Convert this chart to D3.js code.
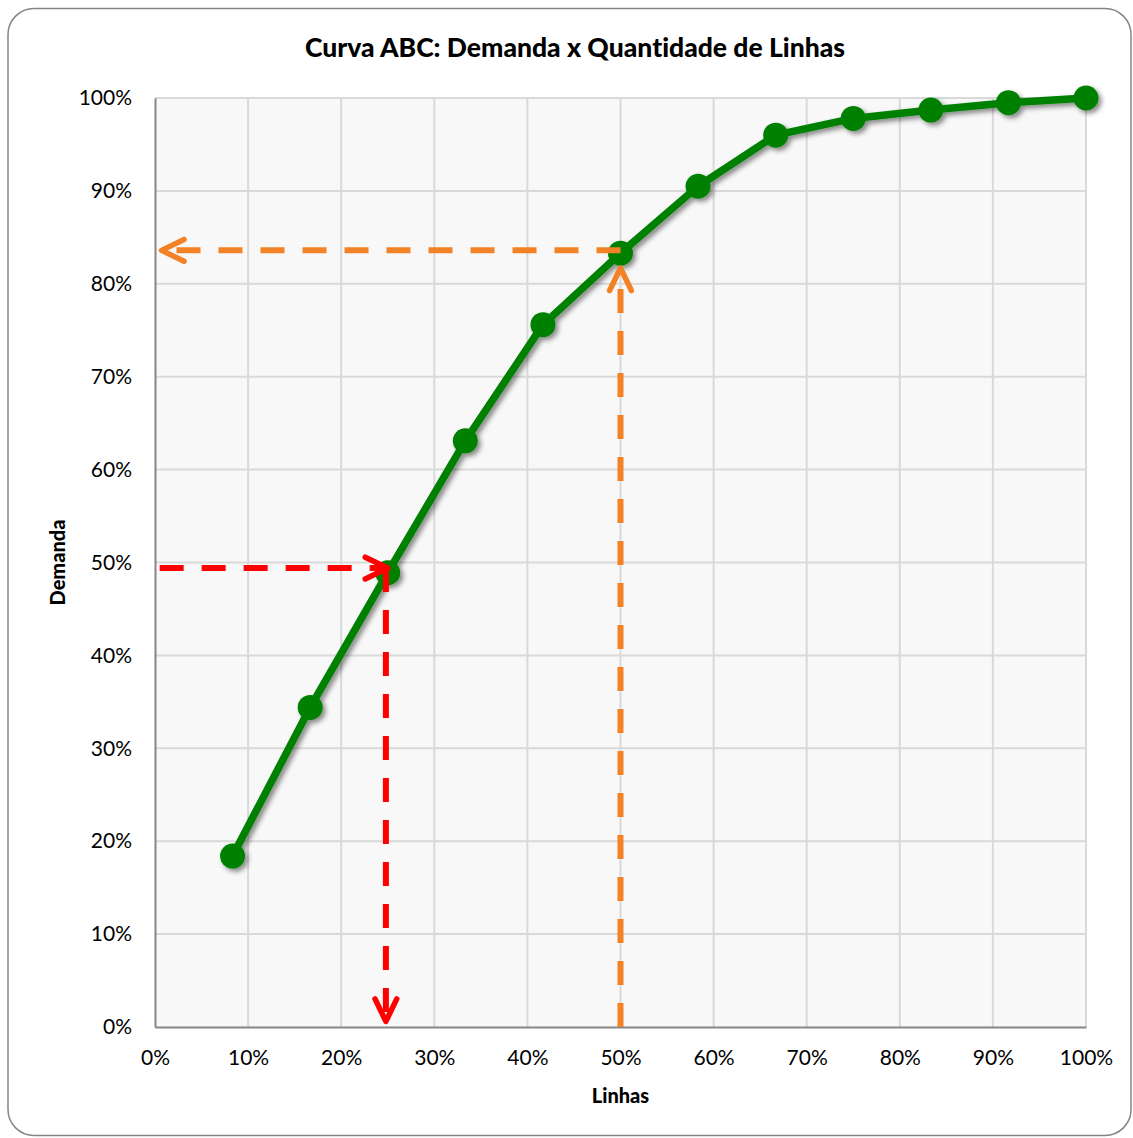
<!DOCTYPE html>
<html lang="pt">
  <head>
    <meta charset="utf-8" />
    <title>Curva ABC</title>
    <script src="https://d3js.org/d3.v7.min.js"></script>
    <style>
      html, body { margin: 0; padding: 0; background: #fff; }
      svg { display: block; font-family: Lato, "Open Sans", sans-serif; font-variant-ligatures: none; }
    </style>
  </head>
  <body>
    <svg id="chart" width="1133" height="1138"></svg>
    <script>
      // values (percent)
      const linhas = [8.33, 16.67, 25, 33.33, 41.67, 50, 58.33, 66.67, 75, 83.33, 91.67, 100];
      const demanda = [18.4, 34.4, 48.9, 63.1, 75.6, 83.3, 90.5, 96.0, 97.8, 98.7, 99.5, 100];
      const xTicks = [0, 10, 20, 30, 40, 50, 60, 70, 80, 90, 100];
      const yTicks = [0, 10, 20, 30, 40, 50, 60, 70, 80, 90, 100];

      // guide arrows: [x1, y1, x2, y2] in percent, arrow head at (x2, y2)
      const redArrows = [
        [0.5, 49.4, 25, 49.4],
        [24.8, 49.4, 24.8, 0.6]
      ];
      const orangeArrows = [
        [50, 0, 50, 81.7],
        [50, 83.6, 0.7, 83.6]
      ];

      const margin = { top: 98, right: 47, bottom: 111, left: 155 },
        width = 1133 - margin.left - margin.right,
        height = 1138 - margin.top - margin.bottom;

      const svg = d3.select("#chart");

      // drop shadow for the series
      const defs = svg.append("defs");
      defs
        .append("filter")
        .attr("id", "shadow")
        .attr("x", "-20%")
        .attr("y", "-20%")
        .attr("width", "140%")
        .attr("height", "140%")
        .append("feDropShadow")
        .attr("dx", 3)
        .attr("dy", 3)
        .attr("stdDeviation", 2.5)
        .attr("flood-color", "#000")
        .attr("flood-opacity", 0.45);

      // outer frame
      svg
        .append("rect")
        .attr("x", 8)
        .attr("y", 8.5)
        .attr("width", 1123)
        .attr("height", 1127)
        .attr("rx", 26)
        .attr("fill", "#fff")
        .attr("stroke", "#858585")
        .attr("stroke-width", 1.5);

      svg
        .append("text")
        .attr("x", 575)
        .attr("y", 57)
        .attr("text-anchor", "middle")
        .style("font-weight", "900")
        .style("font-size", "26.5px")
        .text("Curva ABC: Demanda x Quantidade de Linhas");

      const chart = svg
        .append("g")
        .attr("transform", "translate(" + margin.left + "," + margin.top + ")");

      const x = d3.scaleLinear().domain([0, 100]).range([0, width]);
      const y = d3.scaleLinear().domain([0, 100]).range([height, 0]);

      chart
        .append("rect")
        .attr("width", width)
        .attr("height", height)
        .attr("fill", "#f8f8f8");

      // grid
      chart
        .append("g")
        .selectAll("line")
        .data(xTicks.slice(1))
        .join("line")
        .attr("x1", (d) => x(d))
        .attr("x2", (d) => x(d))
        .attr("y1", 0)
        .attr("y2", height)
        .attr("stroke", "#d9d9d9")
        .attr("stroke-width", 2);

      chart
        .append("g")
        .selectAll("line")
        .data(yTicks.slice(1))
        .join("line")
        .attr("x1", 0)
        .attr("x2", width)
        .attr("y1", (d) => y(d))
        .attr("y2", (d) => y(d))
        .attr("stroke", "#d9d9d9")
        .attr("stroke-width", 2);

      // axes
      const xAxis = chart
        .append("g")
        .attr("transform", "translate(0," + height + ")")
        .call(
          d3.axisBottom(x).tickValues(xTicks).tickSize(0).tickPadding(23)
            .tickFormat((d) => d + "%")
        );
      const yAxis = chart
        .append("g")
        .call(
          d3.axisLeft(y).tickValues(yTicks).tickSize(0).tickPadding(23)
            .tickFormat((d) => d + "%")
        );
      [xAxis, yAxis].forEach(function (ax) {
        ax.select(".domain").attr("stroke", "#868686").attr("stroke-width", 2);
        ax.selectAll("text")
          .style("font-family", "Lato, sans-serif")
          .style("font-size", "21px")
          .attr("fill", "#000");
      });

      // axis titles
      chart
        .append("text")
        .attr("x", width / 2)
        .attr("y", height + 76)
        .attr("text-anchor", "middle")
        .style("font-weight", "900")
        .style("font-size", "20px")
        .text("Linhas");

      chart
        .append("text")
        .attr("transform", "translate(-90," + height / 2 + ")rotate(-90)")
        .attr("text-anchor", "middle")
        .style("font-weight", "900")
        .style("font-size", "20px")
        .text("Demanda");

      // series
      const points = linhas.map((d, i) => ({ x: d, y: demanda[i] }));
      const series = chart.append("g").attr("filter", "url(#shadow)");

      series
        .append("path")
        .datum(points)
        .attr("fill", "none")
        .attr("stroke", "#008000")
        .attr("stroke-width", 7.5)
        .attr("stroke-linejoin", "round")
        .attr(
          "d",
          d3.line().x((d) => x(d.x)).y((d) => y(d.y))
        );

      series
        .selectAll("circle")
        .data(points)
        .join("circle")
        .attr("cx", (d) => x(d.x))
        .attr("cy", (d) => y(d.y))
        .attr("r", 12.5)
        .attr("fill", "#008000");

      // dashed guide arrows
      function drawArrows(list, color) {
        const g = chart.append("g");
        list.forEach(function (a) {
          const x1 = x(a[0]), y1 = y(a[1]), x2 = x(a[2]), y2 = y(a[3]);
          g.append("line")
            .attr("x1", x1)
            .attr("y1", y1)
            .attr("x2", x2)
            .attr("y2", y2)
            .attr("stroke", color)
            .attr("stroke-width", 6)
            .attr("stroke-dasharray", "24 18");
          const ang = Math.atan2(y2 - y1, x2 - x1);
          const len = 25, spread = 0.45;
          const p1 = [x2 - len * Math.cos(ang - spread), y2 - len * Math.sin(ang - spread)];
          const p2 = [x2 - len * Math.cos(ang + spread), y2 - len * Math.sin(ang + spread)];
          g.append("path")
            .attr("d", "M" + p1 + "L" + [x2, y2] + "L" + p2)
            .attr("fill", "none")
            .attr("stroke", color)
            .attr("stroke-width", 5.5)
            .attr("stroke-linecap", "round")
            .attr("stroke-linejoin", "round");
        });
      }
      drawArrows(orangeArrows, "#f28225");
      drawArrows(redArrows, "#ff0000");
    </script>
  </body>
</html>
